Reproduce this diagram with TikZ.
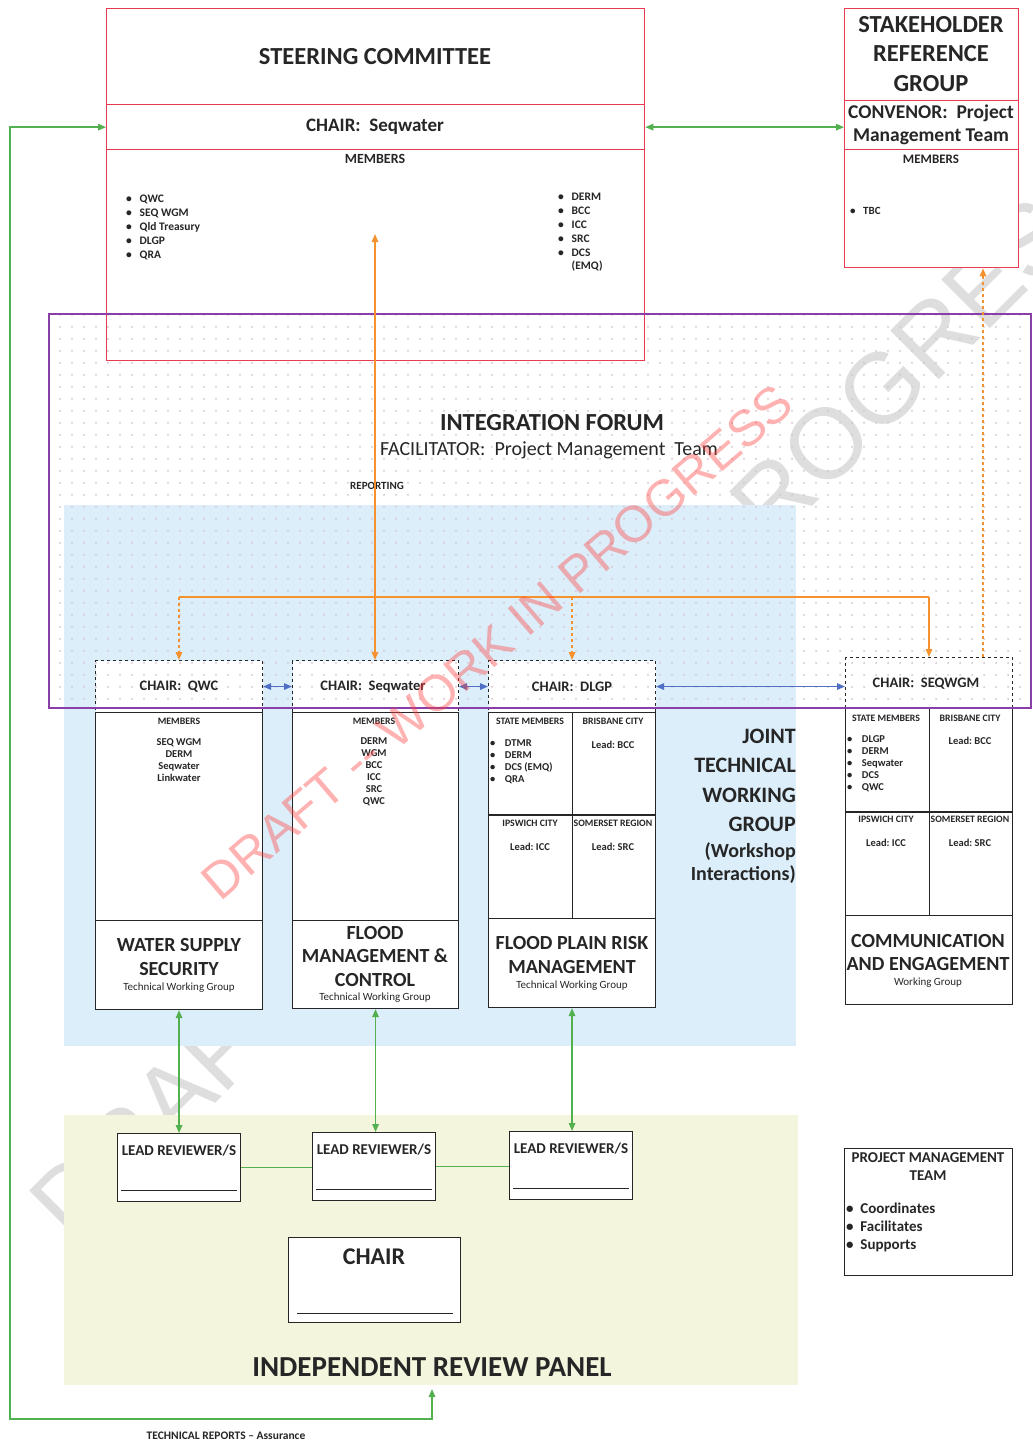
\documentclass[tikz,border=0pt]{standalone}
\usepackage{fontspec}
\setmainfont{Carlito}
\newfontfamily\wmfont{Liberation Sans}
\usetikzlibrary{arrows.meta,patterns.meta}
\definecolor{boxred}{HTML}{E83A50}
\definecolor{lgreen}{HTML}{52B04F}
\definecolor{lorange}{HTML}{F5922F}
\definecolor{fpurple}{HTML}{8A3FA8}
\definecolor{lblue}{HTML}{DCEEFA}
\definecolor{lyellow}{HTML}{F3F5DD}
\definecolor{dotc}{HTML}{D6C0CC}
\definecolor{barrow}{HTML}{4F6FC6}
\newcommand\fsz[2]{\fontsize{#1}{#2}\selectfont}
\begin{document}
\begin{tikzpicture}[x=1pt,y=-1pt,
  box/.style={draw, inner sep=0pt, anchor=north west},
  redbox/.style={box, draw=boxred, line width=1.3pt},
  blkbox/.style={box, draw=black!85, line width=1.1pt, fill=white},
  chairbox/.style={blkbox, dashed},
  txt/.style={inner sep=0pt, align=center, text=black!85},
  onetip/.style={-{Triangle[length=8pt,width=6.5pt]}},
  twotips/.style={{Triangle[length=8pt,width=6.5pt]}-{Triangle[length=8pt,width=6.5pt]}},
  gline/.style={draw=lgreen, line width=1.5pt},
  oline/.style={draw=lorange, line width=1.4pt},
  bline/.style={draw=barrow, line width=1.4pt},
  small/.style={txt, font=\fsz{9.8}{11}\bfseries},
  lead/.style={txt, font=\fsz{10.5}{12}\bfseries},
  wgchair/.style={txt, font=\fsz{14.5}{17}\bfseries},
  wgtitle/.style={txt, font=\fsz{20}{24}\bfseries},
  wgsub/.style={txt, font=\fsz{11}{13}},
  lrtext/.style={txt, font=\fsz{15}{17}\bfseries},
]
\useasboundingbox (0,0) rectangle (1033,1443);
\fill[white] (0,0) rectangle (1033,1443);

% big background watermark
\node[rotate=45, text=black!13, font=\wmfont\fsz{100}{100}] (bigwm) at (575,695) {DRAFT -- WORK IN PROGRESS};

% regions
\node[box, draw=none, fill=lblue, minimum width=732, minimum height=541] (jtwg) at (64,505) {};
\node[box, draw=none, fill=lyellow, minimum width=734, minimum height=270] (irp) at (64,1115) {};

% steering committee
\node[redbox, minimum width=538, minimum height=352] (steer) at (106,8) {};
\node[redbox, minimum width=538, minimum height=45] (steerchair) at (106,104) {};
% stakeholder reference group
\node[redbox, fill=white, minimum width=174, minimum height=259] (srg) at (844,8) {};
\node[redbox, minimum width=174, minimum height=49] (srgconv) at (844,100) {};

% working group boxes
\node[chairbox, minimum width=167, minimum height=52] (wg1c) at (95,660) {};
\node[blkbox, minimum width=167, minimum height=208] (wg1m) at (95,712) {};
\node[blkbox, minimum width=167, minimum height=89] (wg1t) at (95,920) {};

\node[chairbox, minimum width=166, minimum height=52] (wg2c) at (292,660) {};
\node[blkbox, minimum width=166, minimum height=208] (wg2m) at (292,712) {};
\node[blkbox, minimum width=166, minimum height=88] (wg2t) at (292,920) {};

\node[chairbox, minimum width=167, minimum height=52] (wg3c) at (488,660) {};
\node[blkbox, minimum width=167, minimum height=206] (wg3m) at (488,712) {};
\node[blkbox, minimum width=167, minimum height=89] (wg3t) at (488,918) {};
\draw[black!85, line width=1.1pt] (wg3m.north) -- (wg3m.south);
\draw[black!85, line width=1.1pt] (wg3m.west |- 0,815) -- (wg3m.east |- 0,815);

\node[chairbox, minimum width=167, minimum height=51] (wg4c) at (845,657) {};
\node[blkbox, minimum width=167, minimum height=207] (wg4m) at (845,708) {};
\node[blkbox, minimum width=167, minimum height=89] (wg4t) at (845,915) {};
\draw[black!85, line width=1.1pt] (wg4m.north) -- (wg4m.south);
\draw[black!85, line width=1.1pt] (wg4m.west |- 0,812) -- (wg4m.east |- 0,812);

% integration forum
\node[box, draw=fpurple, line width=1.6pt, minimum width=982, minimum height=394,
  pattern={Dots[distance=12pt,radius=1pt]}, pattern color=dotc] (forum) at (48,313) {};

% review panel boxes
\node[blkbox, minimum width=123, minimum height=68] (lr1) at (117,1133) {};
\node[blkbox, minimum width=123, minimum height=68] (lr2) at (312,1132) {};
\node[blkbox, minimum width=123, minimum height=68] (lr3) at (509,1131) {};
\node[blkbox, minimum width=172, minimum height=85] (irpchair) at (288,1237) {};
\node[blkbox, minimum width=168, minimum height=127] (pmt) at (844,1148) {};

\foreach \n/\y in {lr1/1190, lr2/1189, lr3/1188}
  \draw[black!85, line width=1pt] ([xshift=4pt]\n.west |- 0,\y) -- ([xshift=-4pt]\n.east |- 0,\y);
\draw[black!85, line width=1pt] ([xshift=9pt]irpchair.west |- 0,1313) -- ([xshift=-8pt]irpchair.east |- 0,1313);

% ---------- texts ----------
\node[txt, font=\fsz{24.5}{28}\bfseries] (steertitle) at (375,57) {STEERING COMMITTEE};
\node[txt, font=\fsz{19}{22}\bfseries] (steerchairtxt) at (375,127) {CHAIR:\ \ Seqwater};
\node[txt, font=\fsz{14}{16}\bfseries] (steermem) at (375,159) {MEMBERS};
\node[txt, anchor=north west, align=left, font=\fsz{11.5}{14}\bfseries] (steerl) at (126,192)
  {\begin{tabular}{@{}l@{\ \ \ }l@{}}•&QWC\\•&SEQ WGM\\•&Qld Treasury\\•&DLGP\\•&QRA\end{tabular}};
\node[txt, anchor=north west, align=left, font=\fsz{11.5}{13.8}\bfseries] (steerr) at (558,191)
  {\begin{tabular}{@{}l@{\ \ \ }l@{}}•&DERM\\•&BCC\\•&ICC\\•&SRC\\•&DCS\\&(EMQ)\end{tabular}};

\node[txt, font=\fsz{24.5}{29.5}\bfseries] (srgtitle) at (931,54) {STAKEHOLDER\\REFERENCE\\GROUP};
\node[txt, font=\fsz{19.5}{23}\bfseries] (srgconvtxt) at (931,125) {CONVENOR:\ \ Project\\Management Team};
\node[txt, font=\fsz{13}{15}\bfseries] (srgmem) at (931,159) {MEMBERS};
\node[txt, anchor=west, font=\fsz{11}{13}\bfseries] (srgtbc) at (850,211) {•\ \ \ TBC};

\node[txt, font=\fsz{24.5}{28}\bfseries] (iftitle) at (552,423) {INTEGRATION FORUM};
\node[txt, font=\fsz{20}{23}] (iffac) at (549,450) {FACILITATOR:\ \ Project Management\ \ Team};
\node[txt, font=\fsz{11}{13}\bfseries] (reporting) at (377,486) {REPORTING};

\node[wgchair] (wg1chair) at (179,687) {CHAIR:\ \ QWC};
\node[wgchair] (wg2chair) at (373,687) {CHAIR:\ \ Seqwater};
\node[wgchair] (wg3chair) at (572,687) {CHAIR:\ \ DLGP};
\node[wgchair] (wg4chair) at (926,684) {CHAIR:\ \ SEQWGM};

\node[small] (wg1mem) at (179,721) {MEMBERS};
\node[txt, anchor=north, font=\fsz{10.5}{12}\bfseries] (wg1list) at (179,738) {SEQ WGM\\DERM\\Seqwater\\Linkwater};
\node[small] (wg2mem) at (374,721) {MEMBERS};
\node[txt, anchor=north, font=\fsz{10.5}{12}\bfseries] (wg2list) at (374,737) {DERM\\WGM\\BCC\\ICC\\SRC\\QWC};

\node[small] (wg3sm) at (530,721) {STATE MEMBERS};
\node[small] (wg3bc) at (613,721) {BRISBANE CITY};
\node[txt, anchor=north west, align=left, font=\fsz{10.5}{12}\bfseries] (wg3list) at (490,738)
  {\begin{tabular}{@{}l@{\ \ \ \ }l@{}}•&DTMR\\•&DERM\\•&DCS (EMQ)\\•&QRA\end{tabular}};
\node[lead] (wg3l1) at (613,745) {Lead:\ BCC};
\node[small] (wg3ic) at (530,823) {IPSWICH CITY};
\node[small] (wg3sr) at (613,823) {SOMERSET REGION};
\node[lead] (wg3l2) at (530,847) {Lead:\ ICC};
\node[lead] (wg3l3) at (613,847) {Lead:\ SRC};

\node[small] (wg4sm) at (886,718) {STATE MEMBERS};
\node[small] (wg4bc) at (970,718) {BRISBANE CITY};
\node[txt, anchor=north west, align=left, font=\fsz{10.5}{12}\bfseries] (wg4list) at (847,734)
  {\begin{tabular}{@{}l@{\ \ \ \ }l@{}}•&DLGP\\•&DERM\\•&Seqwater\\•&DCS\\•&QWC\end{tabular}};
\node[lead] (wg4l1) at (970,741) {Lead:\ BCC};
\node[small] (wg4ic) at (886,819) {IPSWICH CITY};
\node[small] (wg4sr) at (970,819) {SOMERSET REGION};
\node[lead] (wg4l2) at (886,843) {Lead:\ ICC};
\node[lead] (wg4l3) at (970,843) {Lead:\ SRC};

\node[wgtitle] (wg1title) at (179,957) {WATER SUPPLY\\SECURITY};
\node[wgsub] (wg1sub) at (179,988) {Technical Working Group};
\node[wgtitle, font=\fsz{20}{23.5}\bfseries] (wg2title) at (375,956) {FLOOD\\MANAGEMENT \&\\CONTROL};
\node[wgsub] (wg2sub) at (375,998) {Technical Working Group};
\node[wgtitle] (wg3title) at (572,955) {FLOOD PLAIN RISK\\MANAGEMENT};
\node[wgsub] (wg3sub) at (572,986) {Technical Working Group};
\node[wgtitle, font=\fsz{20}{23.5}\bfseries] (wg4title) at (928,952.5) {COMMUNICATION\\AND ENGAGEMENT};
\node[wgsub] (wg4sub) at (928,983) {Working Group};

\node[txt, anchor=east, align=right, font=\fsz{22}{29.5}\bfseries] (jtwgtxt) at (796,780.5) {JOINT\\TECHNICAL\\WORKING\\GROUP};
\node[txt, anchor=east, align=right, font=\fsz{20}{23}\bfseries] (jtwgsub) at (796,863.5) {(Workshop\\Interactions)};

\node[lrtext] (lr1t) at (179,1151) {LEAD REVIEWER/S};
\node[lrtext] (lr2t) at (374,1150) {LEAD REVIEWER/S};
\node[lrtext] (lr3t) at (571,1149) {LEAD REVIEWER/S};
\node[txt, font=\fsz{24}{27}\bfseries] (irpchairt) at (374,1257) {CHAIR};
\node[txt, font=\fsz{29}{33}\bfseries] (irptitle) at (432,1367) {INDEPENDENT REVIEW PANEL};
\node[txt, font=\fsz{11.5}{13}\bfseries] (techrep) at (226,1436) {TECHNICAL REPORTS -- Assurance};

\node[txt, font=\fsz{15}{18}\bfseries] (pmtt) at (928,1167) {PROJECT MANAGEMENT\\TEAM};
\node[txt, anchor=north west, align=left, font=\fsz{15}{18}\bfseries] (pmtl) at (846,1201)
  {\begin{tabular}{@{}l@{\ \ }l@{}}•&Coordinates\\•&Facilitates\\•&Supports\end{tabular}};

% ---------- connectors ----------
\draw[gline, twotips] (steerchair.east) -- (srgconv.west |- steerchair.east);
\coordinate (fb) at (10,1419);
\coordinate (irpin) at (432,1389);
\draw[gline, twotips] (steerchair.west) -| (fb) -| (irpin);
\draw[gline, twotips] (wg1t.south) -- (wg1t.south |- lr1.north);
\draw[gline, twotips] (wg2t.south) -- (wg2t.south |- lr2.north);
\draw[gline, twotips] (wg3t.south) -- (wg3t.south |- lr3.north);
\draw[gline] (lr1.east) -- (lr2.west |- lr1.east);
\draw[gline] (lr2.east) -- (lr3.west |- lr2.east);

\coordinate (rep) at (375,234);
\coordinate (ol) at (179,597);
\coordinate (or) at (929,597);
\draw[oline, twotips] (wg2c.north -| rep) -- (rep);
\draw[oline] (ol) -- (or);
\draw[oline, dashed, onetip] (ol) -- (wg1c.north -| ol);
\draw[oline, dashed, onetip] (wg3c.north |- ol) -- (wg3c.north);
\draw[oline, onetip] (or) -- (wg4c.north -| or);
\coordinate (sx) at (983,657);
\draw[oline, dashed, onetip] (sx) -- (sx |- srg.south);

\draw[bline, twotips] (wg1c.east) -- (wg2c.west);
\draw[bline, twotips] (wg2c.east) -- (wg3c.west);
\draw[bline, twotips] (wg3c.east) -- (wg4c.west |- wg3c.east);

% red watermark
\node[rotate=40.6, text=red!75, text opacity=0.4, font=\wmfont\fsz{51}{51}] (redwm) at (497,642) {DRAFT -- WORK IN PROGRESS};
\end{tikzpicture}
\end{document}
